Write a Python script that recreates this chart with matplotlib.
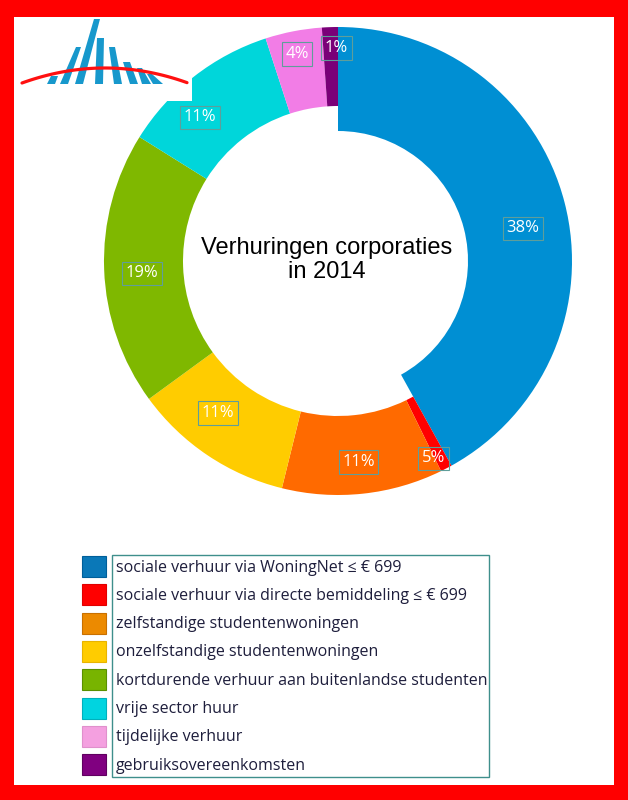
import matplotlib
matplotlib.use('Agg')
import matplotlib.pyplot as plt
from matplotlib.patches import Rectangle, Polygon
import numpy as np

# ---------------- data ----------------
categories = [
    'sociale verhuur via WoningNet ≤ € 699',
    'sociale verhuur via directe bemiddeling ≤ € 699',
    'zelfstandige studentenwoningen',
    'onzelfstandige studentenwoningen',
    'kortdurende verhuur aan buitenlandse studenten',
    'vrije sector huur',
    'tijdelijke verhuur',
    'gebruiksovereenkomsten',
]
# slice sizes as drawn (percent of the ring)
slice_values = [41.9, 0.8, 11.1, 11.1, 18.9, 11.1, 3.9, 1.1]
# printed labels
label_texts = ['38%', '5%', '11%', '11%', '19%', '11%', '4%', '1%']
center_title = 'Verhuringen corporaties\nin 2014'

# ---------------- styles / layout ----------------
slice_colors = ['#008fd3', '#ff0000', '#ff6a00', '#ffcc00', '#7fb800',
                '#00d6da', '#f27de6', '#7a0078']
legend_colors = ['#0a78b8', '#ff0000', '#ec8a00', '#ffcc00', '#78b400',
                 '#00d4e0', '#f4a0e0', '#800080']
legend_edges = ['#005f9a', '#e00000', '#c87000', '#e8b400', '#5a9000',
                '#00b0bc', '#e090cc', '#600060']
# label placement: angle offset from slice middle (deg) and radius (px)
label_angle_shift = [4.5, 1.8, 0.3, 4.5, -1.5, -5.8, -0.2, 1.6]
label_radius_px = [188, 219, 202, 194, 196, 199, 211, 213]

W, H = 628, 800
fig = plt.figure(figsize=(W / 100, H / 100), dpi=100, facecolor='#ff0000')

# background / overlay axes in pixel coordinates
bg = fig.add_axes([0, 0, 1, 1])
bg.set_xlim(0, W)
bg.set_ylim(H, 0)
bg.axis('off')
bg.add_patch(Rectangle((14, 17), 600, 768, facecolor='white', edgecolor='none'))

# ---------------- donut ----------------
cx, cy, R = 338, 261, 234
r_in, r_in_blue = 155, 130
ax = fig.add_axes([(cx - R) / W, (H - cy - R) / H, 2 * R / W, 2 * R / H])
wedges, _ = ax.pie(slice_values, colors=slice_colors, startangle=90,
                   counterclock=False, radius=1.0,
                   wedgeprops=dict(width=(R - r_in) / R, edgecolor='none',
                                   linewidth=0))
wedges[0].set_width((R - r_in_blue) / R)
ax.set_xlim(-1, 1)
ax.set_ylim(-1, 1)
ax.set_aspect('equal')
ax.axis('off')

total = float(sum(slice_values))
cum = 0.0
for i, v in enumerate(slice_values):
    mid = (cum + v / 2) / total * 360.0
    cum += v
    th = np.deg2rad(mid + label_angle_shift[i])
    rr = label_radius_px[i] / R
    ax.text(rr * np.sin(th), rr * np.cos(th), label_texts[i],
            ha='center', va='center', color='white', fontsize=12,
            family=['Open Sans', 'DejaVu Sans'],
            bbox=dict(boxstyle='square,pad=0.22', facecolor='none',
                      edgecolor='#5f9e9a', linewidth=0.8))

# centre title
bg.text(327, 260, center_title, ha='center', va='center',
        multialignment='center', fontsize=17, color='black',
        family=['Liberation Sans', 'DejaVu Sans'], linespacing=1.15)

# ---------------- logo ----------------
lg = fig.add_axes([14 / W, (H - 101) / H, (192 - 14) / W, (101 - 17) / H])
lg.set_xlim(14, 192)
lg.set_ylim(101, 17)
lg.set_facecolor('white')
for s in lg.spines.values():
    s.set_visible(False)
lg.set_xticks([])
lg.set_yticks([])
bars = [
    [(47, 84), (55, 84), (58, 76), (51, 76)],
    [(60, 84), (68, 84), (81, 47), (76, 47)],
    [(75, 84), (83, 84), (100, 19), (94, 19)],
    [(95, 84), (103, 84), (104, 38), (97, 38)],
    [(114, 84), (122, 84), (115, 47), (109, 47)],
    [(130, 84), (138, 84), (130, 62), (123, 62)],
    [(142, 84), (151, 84), (142, 68), (137, 68)],
    [(153, 84), (163, 84), (152, 74), (147, 74)],
]
for b in bars:
    lg.add_patch(Polygon(b, closed=True, facecolor='#1798cc', edgecolor='none'))
xa = np.linspace(22, 187, 100)
ya = 68 + (xa - 105) ** 2 * (15.0 / 83 ** 2)
lg.plot(xa, ya, color='#ff1010', lw=2.3, solid_capstyle='round')

# ---------------- legend ----------------
row0 = 566.5
dy = 28.3
bg.add_patch(Rectangle((112, 555), 377, 222, facecolor='none',
                       edgecolor='#3f8f8c', linewidth=1.0))
for i, (lab, col) in enumerate(zip(categories, legend_colors)):
    yc = row0 + i * dy
    bg.add_patch(Rectangle((82, yc - 10.5), 24, 21, facecolor=col,
                           edgecolor=legend_edges[i], linewidth=0.8))
    bg.text(116, yc + 5, lab, ha='left', va='baseline', fontsize=11.5,
            color='#1e1e3c', family=['Open Sans', 'DejaVu Sans'])

fig.savefig('out.png', dpi=100, facecolor=fig.get_facecolor())
